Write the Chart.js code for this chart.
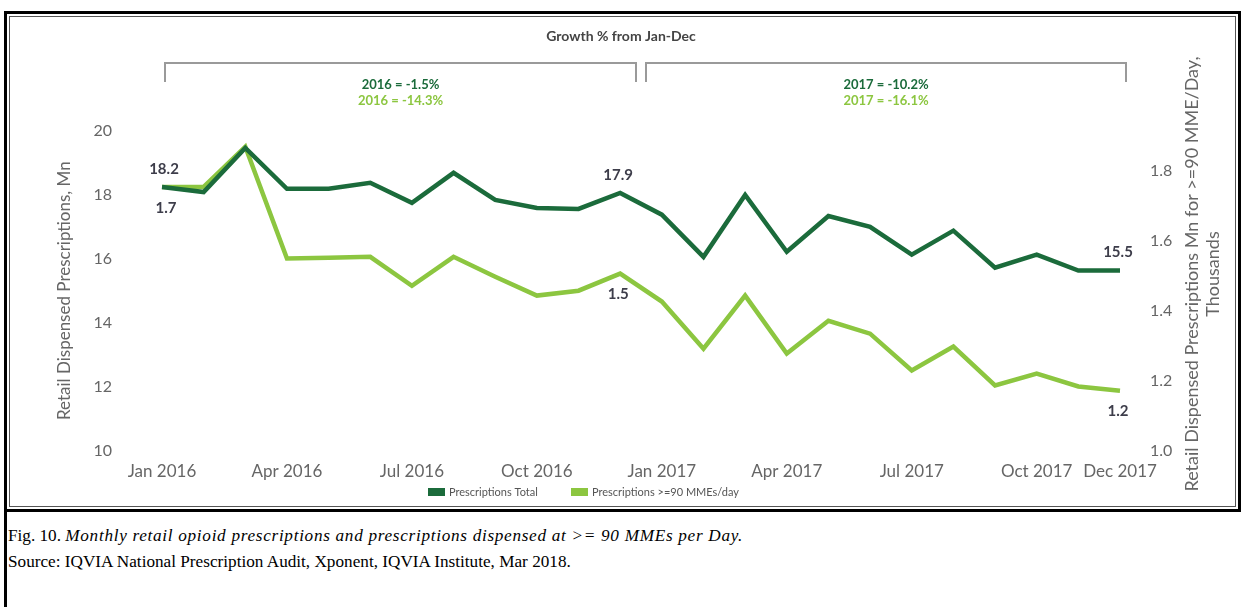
<!DOCTYPE html>
<html>
<head>
<meta charset="utf-8">
<script src="https://cdn.jsdelivr.net/npm/chart.js@4.4.0/dist/chart.umd.min.js"></script>
<style>
  html, body { margin: 0; padding: 0; background: #fff; }
  body { width: 1244px; height: 607px; position: relative; overflow: hidden; }
  #chartBox { position: absolute; left: 0; top: 0; width: 1244px; height: 510px; }
  .line { position: absolute; background: #000; }
  .thin { position: absolute; border: 1px solid #555; pointer-events: none; }
  #caption { position: absolute; left: 8px; top: 523px; font-family: "Liberation Serif", "DejaVu Serif", serif; font-size: 17.2px; color: #000; line-height: 26px; }
  #caption i { letter-spacing: 0.7px; }
</style>
</head>
<body>
<div id="chartBox"><canvas id="myChart" width="1244" height="510"></canvas></div>

<!-- frame lines -->
<div class="line" style="left:4px; top:11px; width:1237px; height:3px;"></div>
<div class="line" style="left:4px; top:11px; width:3px; height:600px;"></div>
<div class="line" style="left:1238px; top:11px; width:3px; height:500px;"></div>
<div class="line" style="left:4px; top:509px; width:1237px; height:3px;"></div>
<div class="thin" style="left:9px; top:16px; width:1225px; height:489px;"></div>

<div id="caption">
  Fig. 10. <i>Monthly retail opioid prescriptions and prescriptions dispensed at &gt;= 90 MMEs per Day.</i><br>
  Source: IQVIA National Prescription Audit, Xponent, IQVIA Institute, Mar 2018.
</div>

<script>
// months on the x axis
const months = ['Jan 2016', 'Feb 2016', 'Mar 2016', 'Apr 2016', 'May 2016', 'Jun 2016',
  'Jul 2016', 'Aug 2016', 'Sep 2016', 'Oct 2016', 'Nov 2016', 'Dec 2016',
  'Jan 2017', 'Feb 2017', 'Mar 2017', 'Apr 2017', 'May 2017', 'Jun 2017',
  'Jul 2017', 'Aug 2017', 'Sep 2017', 'Oct 2017', 'Nov 2017', 'Dec 2017'];
const shownMonths = ['Jan 2016', 'Apr 2016', 'Jul 2016', 'Oct 2016', 'Jan 2017',
  'Apr 2017', 'Jul 2017', 'Oct 2017', 'Dec 2017'];

// Prescriptions Total, Mn (left axis)
const totalRx = [18.25, 18.09, 19.47, 18.19, 18.19, 18.38, 17.75, 18.69, 17.84, 17.59, 17.56, 18.06,
  17.38, 16.06, 18.0, 16.22, 17.34, 17.0, 16.13, 16.88, 15.72, 16.13, 15.63, 15.63];
// Prescriptions >=90 MMEs/day (right axis)
const highDoseRx = [1.754, 1.754, 1.869, 1.549, 1.551, 1.554, 1.471, 1.554, 1.497, 1.443, 1.457, 1.506,
  1.426, 1.291, 1.443, 1.277, 1.371, 1.334, 1.229, 1.297, 1.186, 1.22, 1.183, 1.171];

// value labels printed on the lines
const totalNotes = { 0: '18.2', 11: '17.9', 23: '15.5' };
const highDoseNotes = { 0: '1.7', 11: '1.5', 23: '1.2' };

// growth % callouts
const growthYears = ['2016', '2017'];
const growthTotal = ['-1.5%', '-10.2%'];
const growthHighDose = ['-14.3%', '-16.1%'];

const leftTicks = [10, 12, 14, 16, 18, 20];
const rightTicks = [1.0, 1.2, 1.4, 1.6, 1.8];

const darkGreen = '#1b6b3b';
const lightGreen = '#8cc640';
const fontFam = 'Lato, "Open Sans", sans-serif';

const extras = {
  id: 'extras',
  afterDraw(chart) {
    const ctx = chart.ctx;
    const x = chart.scales.x;
    ctx.save();

    // header
    ctx.fillStyle = '#444';
    ctx.font = 'bold 14px ' + fontFam;
    ctx.textAlign = 'center';
    ctx.textBaseline = 'middle';
    ctx.fillText('Growth % from Jan-Dec', 621, 36);

    // brackets for each year
    const mid = (x.getPixelForValue(11) + x.getPixelForValue(12)) / 2;
    const spans = [
      [x.getPixelForValue(0) + 3, mid - 5],
      [mid + 5, x.getPixelForValue(23) + 6]
    ];
    ctx.strokeStyle = '#9a9a9a';
    ctx.lineWidth = 2;
    spans.forEach(function(s, i) {
      ctx.beginPath();
      ctx.moveTo(s[0], 82);
      ctx.lineTo(s[0], 63);
      ctx.lineTo(s[1], 63);
      ctx.lineTo(s[1], 82);
      ctx.stroke();
      const cx = (s[0] + s[1]) / 2;
      ctx.font = 'bold 13px ' + fontFam;
      ctx.fillStyle = darkGreen;
      ctx.fillText(growthYears[i] + ' = ' + growthTotal[i], cx, 85);
      ctx.fillStyle = lightGreen;
      ctx.fillText(growthYears[i] + ' = ' + growthHighDose[i], cx, 101);
    });

    // value labels
    ctx.font = 'bold 15px ' + fontFam;
    ctx.fillStyle = '#3d3d4a';
    const m0 = chart.getDatasetMeta(0).data;
    const m1 = chart.getDatasetMeta(1).data;
    Object.keys(totalNotes).forEach(function(k) {
      const p = m0[k];
      ctx.fillText(totalNotes[k], p.x + (k == 0 ? 2 : -2), p.y - 18);
    });
    Object.keys(highDoseNotes).forEach(function(k) {
      const p = m1[k];
      ctx.fillText(highDoseNotes[k], p.x + (k == 0 ? 4 : -2), p.y + 21);
    });

    // right axis title, reading bottom to top
    ctx.fillStyle = '#666';
    ctx.font = '18px ' + fontFam;
    [['Retail Dispensed Prescriptions Mn for >=90 MME/Day,', 1192], ['Thousands', 1213]].forEach(function(t) {
      ctx.save();
      ctx.translate(t[1], 274);
      ctx.rotate(-Math.PI / 2);
      ctx.fillText(t[0], 0, 0);
      ctx.restore();
    });

    // legend
    ctx.font = '11px ' + fontFam;
    ctx.textAlign = 'left';
    const items = [[428, darkGreen, chart.data.datasets[0].label], [571, lightGreen, chart.data.datasets[1].label]];
    items.forEach(function(it) {
      ctx.fillStyle = it[1];
      ctx.fillRect(it[0], 488, 17, 8);
      ctx.fillStyle = '#555';
      ctx.fillText(it[2], it[0] + 21, 492);
    });
    ctx.restore();
  }
};

const ctx = document.getElementById('myChart').getContext('2d');
const myChart = new Chart(ctx, {
  type: 'line',
  data: {
    labels: months,
    datasets: [{
      label: 'Prescriptions Total',
      data: totalRx,
      borderColor: darkGreen,
      backgroundColor: darkGreen,
      borderWidth: 4.5,
      pointRadius: 0,
      tension: 0,
      yAxisID: 'y'
    }, {
      label: 'Prescriptions >=90 MMEs/day',
      data: highDoseRx,
      borderColor: lightGreen,
      backgroundColor: lightGreen,
      borderWidth: 4.5,
      pointRadius: 0,
      tension: 0,
      yAxisID: 'y1'
    }]
  },
  options: {
    responsive: false,
    animation: false,
    layout: { padding: { top: 131, left: 0, right: 0, bottom: 0 } },
    plugins: { legend: { display: false }, tooltip: { enabled: false } },
    scales: {
      x: {
        offset: false,
        grid: { display: false, drawTicks: false },
        border: { display: false },
        afterFit: function(s) { s.height = 59; },
        ticks: {
          autoSkip: false,
          maxRotation: 0,
          padding: 11,
          color: '#666',
          font: { family: fontFam, size: 17 },
          callback: function(v, i) {
            const m = months[i];
            return shownMonths.indexOf(m) >= 0 ? m : '';
          }
        }
      },
      y: {
        position: 'left',
        min: leftTicks[0],
        max: leftTicks[leftTicks.length - 1],
        grid: { display: false, drawTicks: false },
        border: { display: false },
        afterFit: function(s) { s.width = 162; },
        afterBuildTicks: function(s) { s.ticks = leftTicks.map(function(v) { return { value: v }; }); },
        ticks: { padding: 50, color: '#666', font: { family: fontFam, size: 16 } },
        title: {
          display: true,
          text: 'Retail Dispensed Prescriptions, Mn',
          color: '#666',
          font: { family: fontFam, size: 17 },
          padding: { top: 54, bottom: 0 }
        }
      },
      y1: {
        position: 'right',
        min: 1.0,
        max: 1.914,
        grid: { display: false, drawTicks: false },
        border: { display: false },
        afterFit: function(s) { s.width = 124; },
        afterBuildTicks: function(s) { s.ticks = rightTicks.map(function(v) { return { value: v }; }); },
        ticks: {
          padding: 30,
          color: '#666',
          font: { family: fontFam, size: 16 },
          callback: function(v) { return v.toFixed(1); }
        }
      }
    }
  },
  plugins: [extras]
});
</script>
</body>
</html>
